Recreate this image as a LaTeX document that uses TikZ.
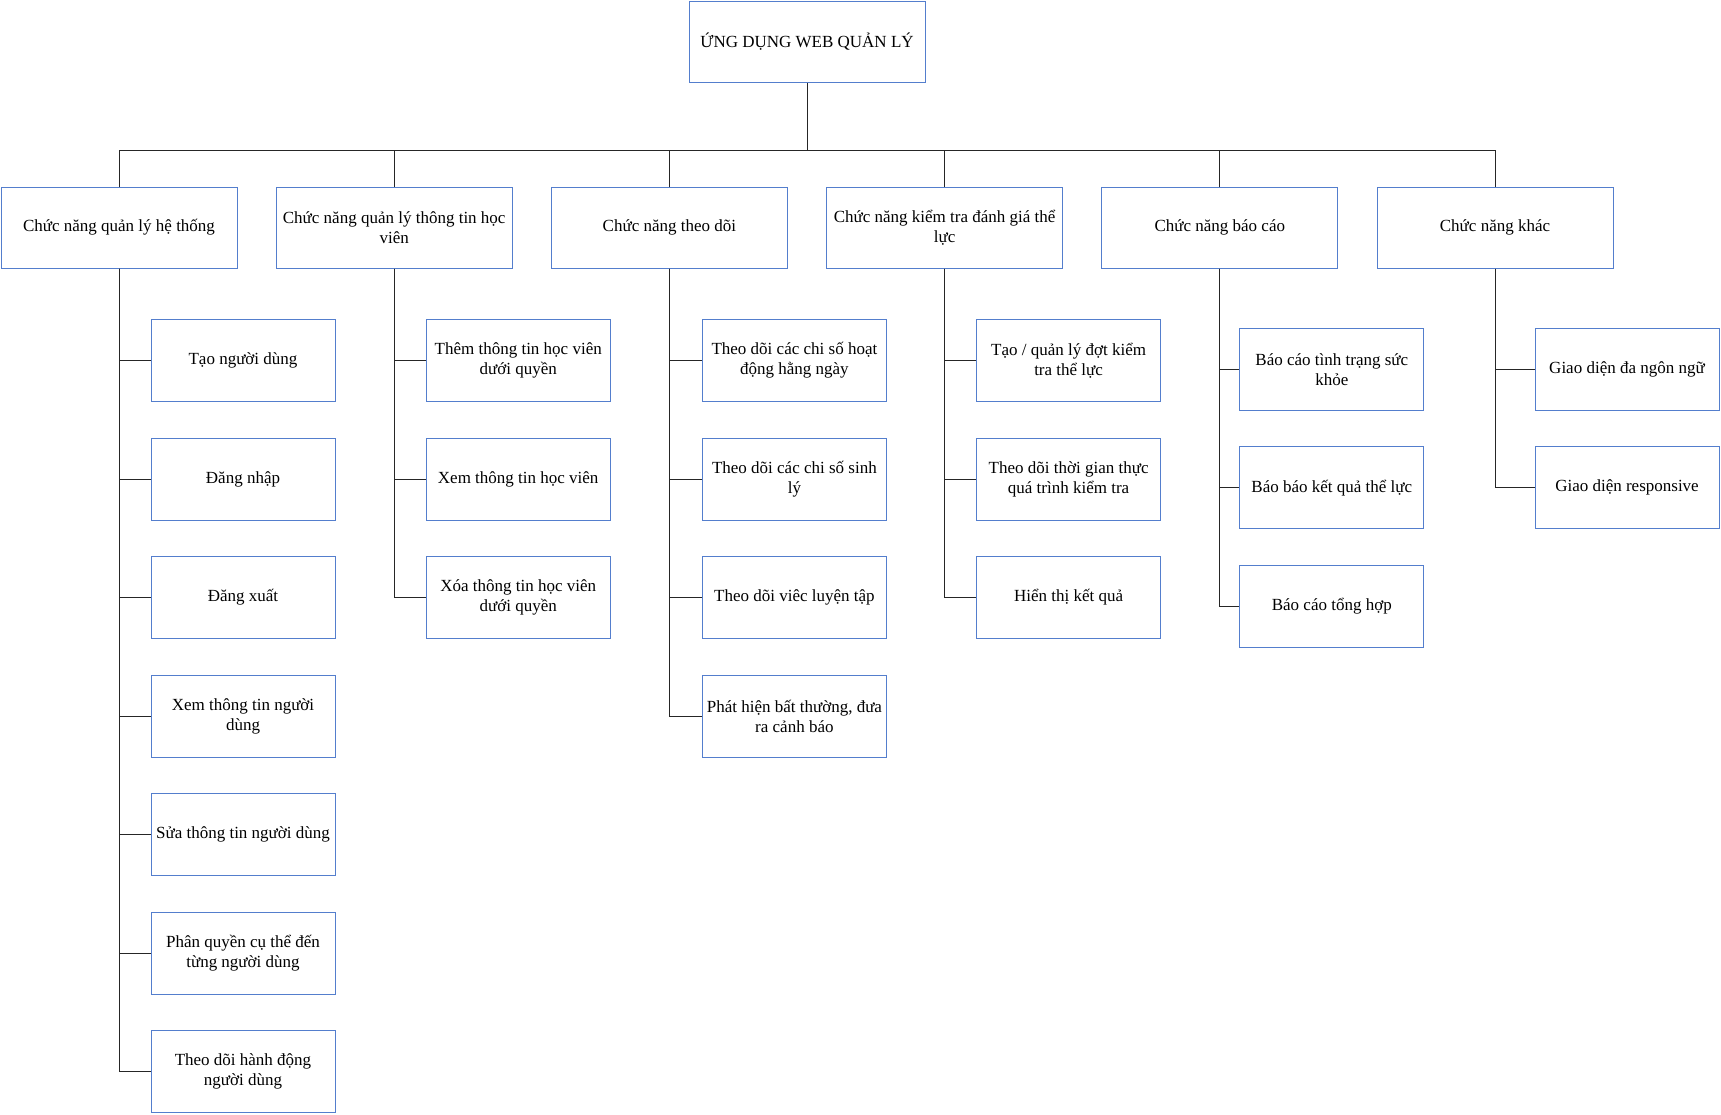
\documentclass[tikz,border=0pt]{standalone}
\usepackage{fontspec}
\setmainfont{Liberation Serif}
\usetikzlibrary{positioning}
\definecolor{boxblue}{RGB}{84,126,205}

\begin{document}
\begin{tikzpicture}[x=1pt,y=1pt,thin]
\tikzstyle{box}=[shape=rectangle,draw=boxblue,line width=1pt,fill=white,text=black,align=center,inner sep=2pt,font=\fontsize{17}{20}\selectfont]
\tikzstyle{head}=[box,minimum width=236pt,minimum height=81pt]
\tikzstyle{leaf}=[box,minimum width=184pt,minimum height=82pt]
\tikzstyle{link}=[-,line width=0.9pt,draw=black!85]
\tikzstyle{bus}=[to path={-- ++(0,-67) -| (\tikztotarget)}]
\tikzstyle{elbow}=[to path={|- (\tikztotarget)}]

\useasboundingbox (0,0) rectangle (1721,-1114);

\node[head]		(root) at (807,-42)		{ỨNG DỤNG WEB QUẢN LÝ};
\node[head]		(sys) [below of=root,node distance=185.5pt,xshift=-688pt] {Chức năng quản lý hệ thống};
\node[head]		(stu) [right of=sys,node distance=275.2pt] {Chức năng quản lý thông tin học\\viên};
\node[head]		(mon) [right of=stu,node distance=275.2pt] {Chức năng theo dõi};
\node[head]		(fit) [right of=mon,node distance=275.2pt] {Chức năng kiểm tra đánh giá thể\\lực};
\node[head]		(rep) [right of=fit,node distance=275.2pt] {Chức năng báo cáo};
\node[head]		(oth) [right of=rep,node distance=275.2pt] {Chức năng khác};

% he thong
\node[leaf]		(sys1) [below of=sys,node distance=133pt,xshift=124pt] {Tạo người dùng};
\node[leaf]		(sys2) [below of=sys1,node distance=118.5pt] {Đăng nhập};
\node[leaf]		(sys3) [below of=sys2,node distance=118.5pt] {Đăng xuất};
\node[leaf]		(sys4) [below of=sys3,node distance=118.5pt] {Xem thông tin người\\dùng};
\node[leaf]		(sys5) [below of=sys4,node distance=118.5pt] {Sửa thông tin người dùng};
\node[leaf]		(sys6) [below of=sys5,node distance=118.5pt] {Phân quyền cụ thể đến\\từng người dùng};
\node[leaf]		(sys7) [below of=sys6,node distance=118.5pt] {Theo dõi hành động\\người dùng};

% hoc vien
\node[leaf]		(stu1) [below of=stu,node distance=133pt,xshift=124pt] {Thêm thông tin học viên\\dưới quyền};
\node[leaf]		(stu2) [below of=stu1,node distance=118.5pt] {Xem thông tin học viên};
\node[leaf]		(stu3) [below of=stu2,node distance=118.5pt] {Xóa thông tin học viên\\dưới quyền};

% theo doi
\node[leaf]		(mon1) [below of=mon,node distance=133pt,xshift=125pt] {Theo dõi các chi số hoạt\\động hằng ngày};
\node[leaf]		(mon2) [below of=mon1,node distance=118.5pt] {Theo dõi các chi số sinh\\lý};
\node[leaf]		(mon3) [below of=mon2,node distance=118.5pt] {Theo dõi viêc luyện tập};
\node[leaf]		(mon4) [below of=mon3,node distance=118.5pt] {Phát hiện bất thường, đưa\\ra cảnh báo};

% the luc
\node[leaf]		(fit1) [below of=fit,node distance=133pt,xshift=124pt] {Tạo / quản lý đợt kiểm\\tra thể lực};
\node[leaf]		(fit2) [below of=fit1,node distance=118.5pt] {Theo dõi thời gian thực\\quá trình kiểm tra};
\node[leaf]		(fit3) [below of=fit2,node distance=118.5pt] {Hiển thị kết quả};

% bao cao
\node[leaf]		(rep1) [below of=rep,node distance=141.8pt,xshift=112pt] {Báo cáo tình trạng sức\\khỏe};
\node[leaf]		(rep2) [below of=rep1,node distance=118.5pt] {Báo báo kết quả thể lực};
\node[leaf]		(rep3) [below of=rep2,node distance=118.5pt] {Báo cáo tổng hợp};

% khac
\node[leaf]		(oth1) [below of=oth,node distance=141.8pt,xshift=132pt] {Giao diện đa ngôn ngữ};
\node[leaf]		(oth2) [below of=oth1,node distance=118.5pt] {Giao diện responsive};

\path[link]
(root.south) edge[bus] (sys.north)
(root.south) edge[bus] (stu.north)
(root.south) edge[bus] (mon.north)
(root.south) edge[bus] (fit.north)
(root.south) edge[bus] (rep.north)
(root.south) edge[bus] (oth.north)
(sys.south) edge[elbow] (sys1.west)
(sys.south) edge[elbow] (sys2.west)
(sys.south) edge[elbow] (sys3.west)
(sys.south) edge[elbow] (sys4.west)
(sys.south) edge[elbow] (sys5.west)
(sys.south) edge[elbow] (sys6.west)
(sys.south) edge[elbow] (sys7.west)
(stu.south) edge[elbow] (stu1.west)
(stu.south) edge[elbow] (stu2.west)
(stu.south) edge[elbow] (stu3.west)
(mon.south) edge[elbow] (mon1.west)
(mon.south) edge[elbow] (mon2.west)
(mon.south) edge[elbow] (mon3.west)
(mon.south) edge[elbow] (mon4.west)
(fit.south) edge[elbow] (fit1.west)
(fit.south) edge[elbow] (fit2.west)
(fit.south) edge[elbow] (fit3.west)
(rep.south) edge[elbow] (rep1.west)
(rep.south) edge[elbow] (rep2.west)
(rep.south) edge[elbow] (rep3.west)
(oth.south) edge[elbow] (oth1.west)
(oth.south) edge[elbow] (oth2.west);
\end{tikzpicture}
\end{document}
